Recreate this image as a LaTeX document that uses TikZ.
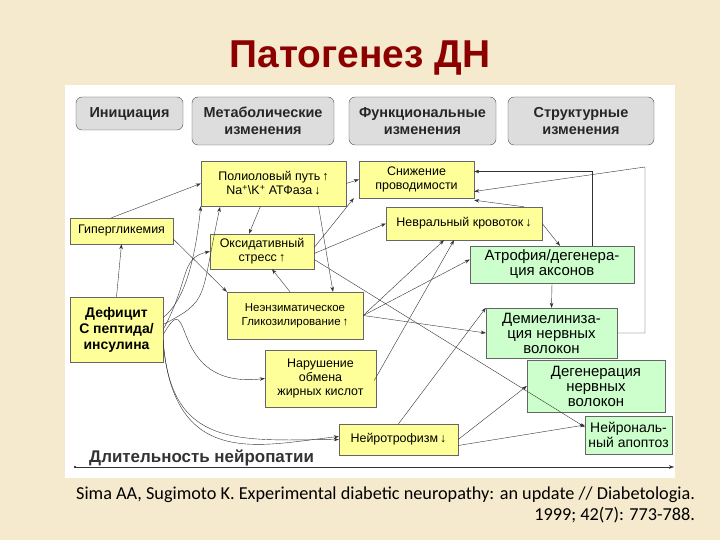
\documentclass[tikz,border=0pt]{standalone}
\usepackage{fontspec}
\setmainfont{Liberation Sans}
\newfontfamily\citefont{Carlito}
\usetikzlibrary{arrows.meta}
\definecolor{bg}{RGB}{245,234,205}
\definecolor{yl}{RGB}{255,255,153}
\definecolor{gr}{RGB}{204,255,204}
\definecolor{hd}{RGB}{221,221,221}
\begin{document}
\begin{tikzpicture}[x=1bp,y=-1bp,
 hdr/.style={draw=black!70,rounded corners=6bp,fill=hd,font=\bfseries\fontsize{14.5}{17}\selectfont,align=center,inner sep=0pt,text=black!85},
 yel/.style={draw=black!60,fill=yl,font=\fontsize{12.5}{14}\selectfont,align=center,inner sep=0pt},
 grn/.style={draw=black!60,fill=gr,font=\fontsize{15}{15}\selectfont,align=center,inner sep=0pt},
 ar/.style={-{Stealth[length=5bp,width=3.5bp]},black!80,thin}]
\fill[bg] (0,0) rectangle (720,540);
\useasboundingbox (0,0) rectangle (720,540);
\fill[white] (65,85) rectangle (675,478);
\node[text=red!55!black,font=\bfseries\fontsize{39}{42}\selectfont] (title) at (360,58) {Патогенез ДН};
% headers
\node[hdr,minimum width=107bp,minimum height=33bp] (h1) at (129.5,113.5) {Инициация};
\node[hdr,minimum width=142bp,minimum height=48bp] (h2) at (263,121) {Метаболические\\изменения};
\node[hdr,minimum width=147bp,minimum height=48bp] (h3) at (422.5,121) {Функциональные\\изменения};
\node[hdr,minimum width=146bp,minimum height=48bp] (h4) at (581,121) {Структурные\\изменения};
% yellow
\node[yel,minimum width=145bp,minimum height=45bp] (poly) at (273.5,183.5) {Полиоловый путь\,↑\\Na\textsuperscript{+}\textbackslash K\textsuperscript{+} АТФаза\,↓};
\node[yel,minimum width=115bp,minimum height=37bp] (sn) at (416.5,179.5) {Снижение\\проводимости};
\node[yel,minimum width=103bp,minimum height=26bp] (hy) at (121.5,231) {Гипергликемия};
\node[yel,minimum width=104bp,minimum height=35bp] (ok) at (262,251.5) {Оксидативный\\стресс\,↑};
\node[yel,minimum width=156bp,minimum height=33bp] (nv) at (464,223.5) {Невральный кровоток\,↓};
\node[yel,minimum width=93bp,minimum height=65bp,font=\bfseries\fontsize{14}{16}\selectfont] (de) at (116.5,329.5) {Дефицит\\С пептида/\\инсулина};
\node[yel,minimum width=136bp,minimum height=47bp,font=\fontsize{11.5}{14}\selectfont] (ne) at (295,315.5) {Неэнзиматическое\\Гликозилирование\,↑};
\node[yel,minimum width=111bp,minimum height=57bp] (na) at (320.5,378.5) {Нарушение\\обмена\\жирных кислот};
\node[yel,minimum width=119bp,minimum height=31bp] (nt) at (398.5,439.5) {Нейротрофизм\,↓};
% green
\node[grn,minimum width=164bp,minimum height=37bp] (at) at (552,264.5) {Атрофия/дегенера-\\ция аксонов};
\node[grn,minimum width=131bp,minimum height=50bp] (dm) at (551.5,333) {Демиелиниза-\\ция нервных\\волокон};
\node[grn,minimum width=138bp,minimum height=52bp] (dg) at (596,386) {Дегенерация\\нервных\\волокон};
\node[grn,minimum width=87bp,minimum height=38bp,font=\fontsize{14}{15}\selectfont] (ap) at (628.5,435) {Нейрональ-\\ный апоптоз};
% timeline
\coordinate (t0) at (75,467);
\coordinate (t1) at (674,467);
\fill (t0) circle (1.2bp);
\draw[ar] (t0) -- (t1);
\node[anchor=south west,inner sep=1bp,font=\bfseries\fontsize{17}{19}\selectfont,text=black!80] (tl) at (88,469) {\underline{Длительность нейропатии}};
% connectors
\draw[ar] (hy.north) ++(-10,0) coordinate (a1) -- (poly.west);
\draw[ar] (de.north) -- (hy.south);
\draw[ar] (hy.east) ++(0,8) -- (ne.north west);
\draw[ar] (de.east) ++(0,-12) .. controls (185,300) and (195,260) .. (poly.south west);
\draw[ar] (de.east) ++(0,-5) .. controls (210,300) and (200,300) .. (220,207);
\draw[ar] (de.east) ++(0,0) .. controls (190,280) and (180,258) .. (ok.west);
\draw[ar] (de.east) ++(0,5) .. controls (195,280) and (165,390) .. (na.west);
\draw[ar] (de.east) ++(0,10) .. controls (170,450) and (240,440) .. (nt.west);
\draw[ar] (de.east) ++(0,14) .. controls (175,470) and (260,445) .. ([yshift=3bp]nt.west);
\draw[ar] (poly.east) -- (sn.west);
\draw[ar] (poly.south) ++(-13,0) -- ([xshift=-13bp]ok.north);
\draw[ar] (poly.south) ++(45,0) -- ([xshift=38bp]ne.north);
\draw[ar] (ok.east) ++(0,-4) -- ([xshift=-5bp]sn.south west);
\draw[ar] (ok.east) ++(0,2) -- (nv.west);
\draw[ar] (ok.east) ++(0,8) -- ([yshift=8bp]ap.west);
\draw[ar] (ne.north) ++(-5,0) -- ([xshift=10bp]ok.south);
\draw[ar] (ne.east) -- ([xshift=-20bp]nv.south);
\draw[ar] (ne.east) -- ([yshift=5bp]at.west);
\draw[ar] (ne.east) -- (dm.west);
\draw[ar] (na.east) ++(-2,2) -- ([xshift=-10bp]nv.south);
\draw[ar] (nt.north) -- (dm.north west);
\draw[ar] (nt.east) -- (dg.west);
\draw[ar] (nt.east) ++(0,6) -- ([yshift=10bp]ap.west);
\draw[ar] (nv.east) -- ([xshift=8bp]at.north);
\draw[ar] (nv.north) ++(60,0) -- ([yshift=-2bp]sn.south east);
\draw[ar] (at.south) -- (dm.north);
\draw[ar] (at.north) ++(40,0) |- ([yshift=8bp]sn.east);
\draw[ar] (dm.east) -| (645,167) -- ([yshift=-12bp]sn.east);
\node[anchor=north west,font=\citefont\fontsize{18.3}{21}\selectfont,align=right,inner sep=0pt] (cite) at (76,487) {Sima AA, Sugimoto K. Experimental diabetic neuropathy: an update // Diabetologia.\\1999; 42(7): 773-788.};
\end{tikzpicture}
\end{document}
